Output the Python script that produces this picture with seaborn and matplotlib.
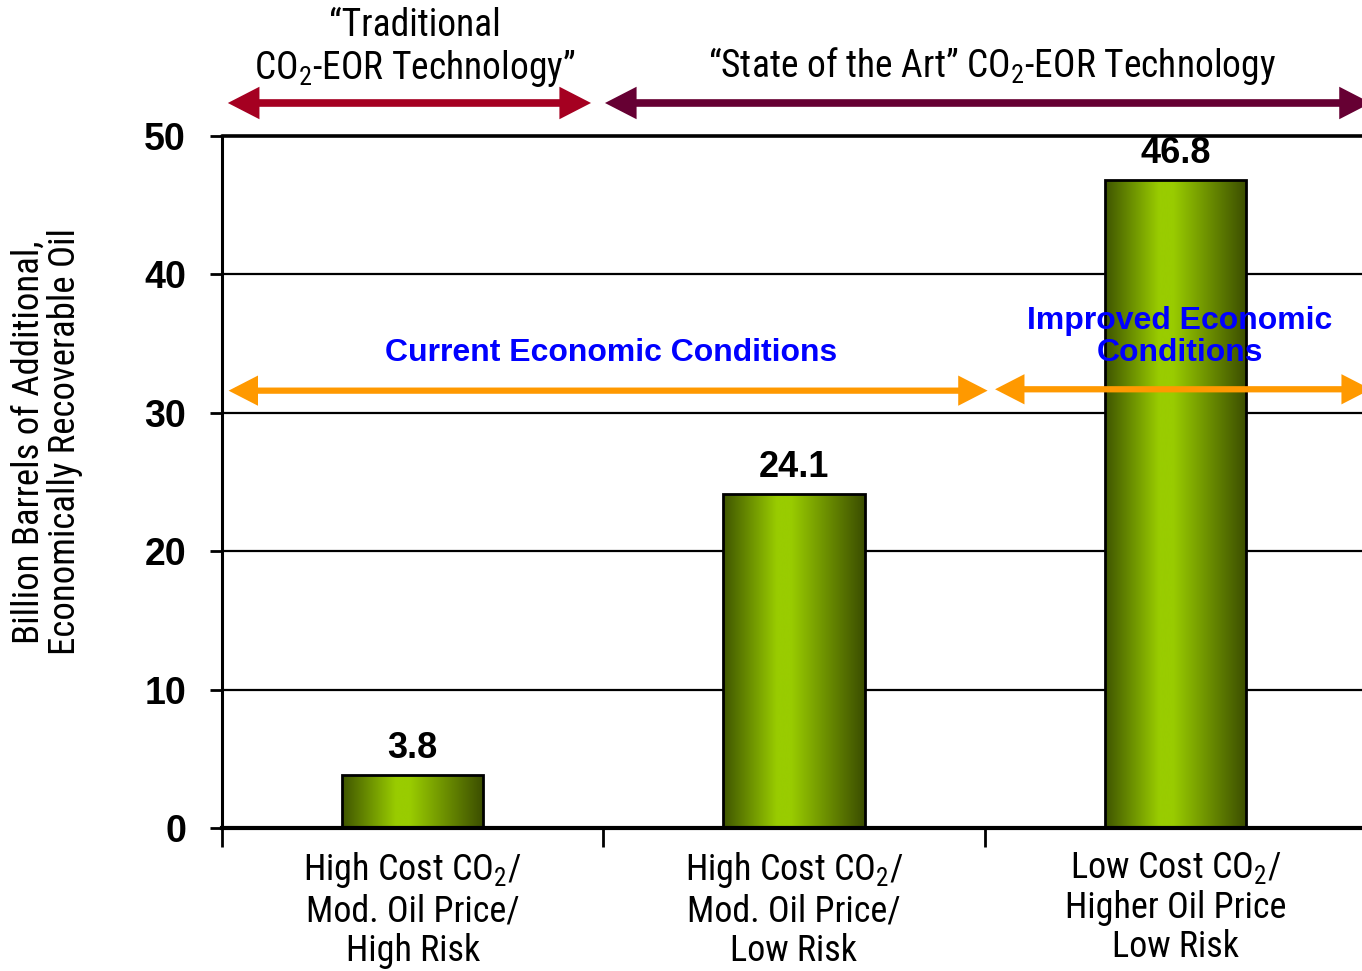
import numpy as np
import matplotlib
matplotlib.use("Agg")
import matplotlib.pyplot as plt
from matplotlib.colors import LinearSegmentedColormap
from matplotlib.patches import FancyArrowPatch
from matplotlib import font_manager
import seaborn as sns

# Data
categories = [
    "High Cost CO$_2$/\nMod. Oil Price/\nHigh Risk",
    "High Cost CO$_2$/\nMod. Oil Price/\nLow Risk",
    "Low Cost CO$_2$/\nHigher Oil Price\nLow Risk",
]
values = [3.8, 24.1, 46.8]
value_labels = ["3.8", "24.1", "46.8"]
y_ticks = [0, 10, 20, 30, 40, 50]

sns.set_theme(style="white")

names = {f.name for f in font_manager.fontManager.ttflist}
narrow = next((n for n in ["Roboto Condensed", "Archivo Narrow", "PT Sans Narrow"] if n in names),
              "Liberation Sans")
plt.rcParams["font.family"] = ["Liberation Sans", "DejaVu Sans"]
plt.rcParams["mathtext.fontset"] = "custom"
plt.rcParams["mathtext.rm"] = narrow
plt.rcParams["mathtext.it"] = narrow
for key in ["text.color", "axes.labelcolor", "xtick.color", "ytick.color"]:
    plt.rcParams[key] = "black"

W, H = 1362, 971
fig = plt.figure(figsize=(W / 100, H / 100), dpi=100)
ax = fig.add_axes([222 / W, (H - 828) / H, 1144 / W, 692 / H])

df = {"cat": categories, "val": values}
sns.barplot(x="cat", y="val", data=df, width=0.37, color="#99cc00",
            edgecolor="black", linewidth=2, ax=ax, zorder=3)

# Gradient fill inside each bar
grad_cmap = LinearSegmentedColormap.from_list(
    "olive", [(0.0, "#3f5500"), (0.38, "#99cc00"), (0.48, "#99cc00"), (1.0, "#3b4d00")])
gradient = np.linspace(0, 1, 256).reshape(1, -1)
for p in ax.patches:
    x0, y0 = p.get_x(), p.get_y()
    w, h = p.get_width(), p.get_height()
    im = ax.imshow(gradient, cmap=grad_cmap, extent=[x0, x0 + w, y0, y0 + h],
                   aspect="auto", zorder=3.5, interpolation="bicubic")
    im.set_clip_path(p)
    p.set_facecolor("none")
    p.set_zorder(4)
ax.set_xlim(-0.5, 2.5)
ax.set_ylim(0, 50)

# Grid and spines
for yv in y_ticks[1:-1]:
    ax.axhline(yv, color="black", lw=1.6, zorder=1)
ax.axhline(50, color="black", lw=2.6, zorder=1, clip_on=False)
ax.spines["right"].set_visible(False)
ax.spines["top"].set_visible(False)
ax.spines["left"].set_color("black")
ax.spines["left"].set_linewidth(2.2)
ax.spines["bottom"].set_color("black")
ax.spines["bottom"].set_linewidth(3)
ax.spines["bottom"].set_zorder(5)

ax.set_yticks(y_ticks)
ax.set_yticklabels([str(t) for t in y_ticks], fontsize=27, fontweight="bold")
ax.tick_params(axis="y", direction="out", length=9, width=2, color="black", pad=17, left=True)
ax.set_xticks([0, 1, 2])
ax.set_xticklabels(categories, fontsize=26, family=narrow, linespacing=1.12)
ax.set_xticks([0.5, 1.5, -0.5], minor=True)
ax.tick_params(axis="x", which="major", length=0, pad=16)
ax.tick_params(axis="x", which="minor", direction="out", length=14, width=2, color="black", bottom=True)
ax.set_xlabel("")
ax.set_ylabel("Billion Barrels of Additional,\nEconomically Recoverable Oil",
              fontsize=26.5, family=narrow, linespacing=1.0)
ax.yaxis.set_label_coords(-0.1215, 0.558)

# Value labels above bars
for i, (v, lab) in enumerate(zip(values, value_labels)):
    ax.text(i, v + 0.7, lab, ha="center", va="bottom",
            fontsize=26, fontweight="bold", color="black", zorder=6)

# Double-headed arrows
def darrow(x0, x1, y, color, lw, trans):
    a = FancyArrowPatch((x0, y), (x1, y), transform=trans,
                        arrowstyle="<|-|>,head_length=0.7,head_width=0.36",
                        mutation_scale=20, color=color, lw=lw,
                        joinstyle="miter", capstyle="butt",
                        clip_on=False, zorder=7)
    ax.add_patch(a)

xt = ax.get_xaxis_transform()
darrow(-0.492, 0.475, 1.0477, "#a50021", 5.5, xt)
darrow(0.497, 2.52, 1.0477, "#660033", 5.5, xt)
darrow(-0.49, 1.515, 31.6, "#ff9900", 4.5, ax.transData)
darrow(1.52, 2.52, 31.7, "#ff9900", 4.5, ax.transData)

# Header texts
fig.text(415 / W, 1 - 48 / H, "\u201cTraditional\nCO$_2$-EOR Technology\u201d",
         ha="center", va="center", fontsize=27, family=narrow, linespacing=1.12)
fig.text(992 / W, 1 - 66 / H, "\u201cState of the Art\u201d CO$_2$-EOR Technology",
         ha="center", va="center", fontsize=27, family=narrow)

# Economic condition labels
fig.text(611 / W, 1 - 353 / H, "Current Economic Conditions", ha="center", va="center",
         fontsize=23, fontweight="bold", color="#0000ff", zorder=8)
fig.text(1180 / W, 1 - 337 / H, "Improved Economic\nConditions", ha="center", va="center",
         fontsize=23, fontweight="bold", color="#0000ff", zorder=8, linespacing=1.05)

fig.savefig("out.png", dpi=100)
